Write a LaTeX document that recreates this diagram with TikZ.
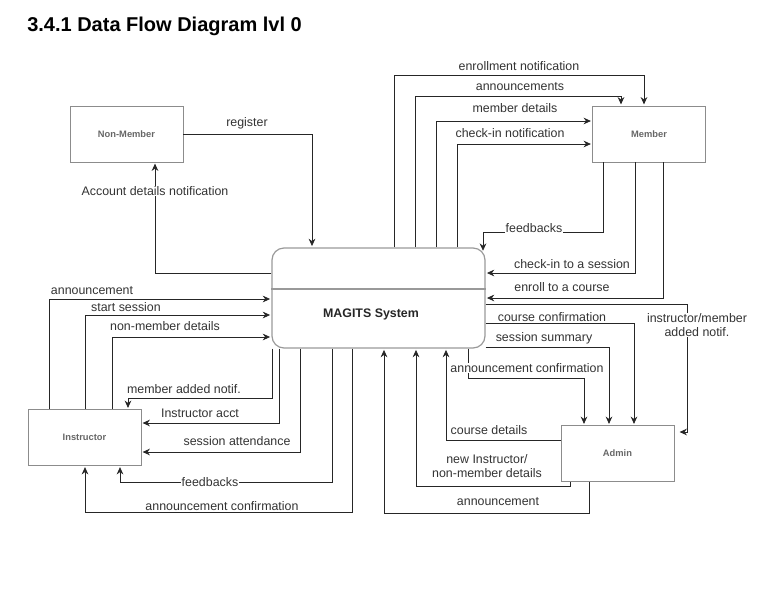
\documentclass[tikz,border=0pt]{standalone}
\usepackage{fontspec}
\setmainfont{Liberation Sans}
\usetikzlibrary{arrows.meta}

\begin{document}
\begin{tikzpicture}[x=0.75pt,y=-0.75pt,shorten >=1pt,
   ent/.style={draw=black!45,minimum width=84.75pt,minimum height=42pt,inner sep=0pt,
      text=black!60,font=\fontsize{7}{8}\selectfont\bfseries},
   proc/.style={draw=black!40,line width=0.9pt,rounded corners=9pt,
      minimum width=159.75pt,minimum height=75pt,inner sep=0pt},
   flow/.style={draw=black!85,line width=0.6pt,-{Stealth[length=5.5pt,width=5pt]}},
   lbl/.style={fill=white,inner sep=0.5pt,text=black!80,align=center,
      font=\fontsize{9.3}{10.5}\selectfont}]
   \useasboundingbox (0,0) rectangle (776,601);
   \node[anchor=base west,inner sep=0pt,font=\fontsize{15}{18}\selectfont\bfseries] (title) at (27,31)
      {3.4.1 Data Flow Diagram lvl 0};

   % external entities and the process
   \node[ent] (nm)  at (126.5,134)   {Non-Member};
   \node[ent] (mem) at (649,134)     {Member};
   \node[ent] (ins) at (84.5,437.5)  {Instructor};
   \node[ent] (adm) at (617.5,453.5) {Admin};
   \node[proc] (sys) at (378.5,298) {};
   \draw[black!40,line width=0.9pt,shorten >=0pt] (sys.west |- 0,289) -- (sys.east |- 0,289);
   \node[font=\fontsize{9.3}{11}\selectfont\bfseries,text=black!85] (sysname) at (371,314) {MAGITS System};

   % non-member
   \draw[flow] (nm.east) -| (sys.north -| 312,0);
   \draw[flow] (sys.west |- 0,273) -| (nm.south -| 155,0);
   \node[lbl] (l_reg) at (247,123) {register};
   \node[lbl] (l_acc) at (155,191) {Account details notification};

   % member
   \draw[flow] (sys.north -| 394,0) -- (394,75) -| (mem.north -| 644,0);
   \draw[flow] (sys.north -| 415,0) -- (415,96) -| (mem.north -| 621,0);
   \draw[flow] (sys.north -| 436,0) |- (mem.west |- 0,121);
   \draw[flow] (sys.north -| 457,0) |- (mem.west |- 0,144);
   \draw[flow,shorten >=-2.5pt] (mem.south -| 603,0) |- (483,232) -- (sys.north -| 483,0);
   \draw[flow] (mem.south -| 635,0) |- (sys.east |- 0,273);
   \draw[flow] (mem.south -| 663,0) |- (sys.east |- 0,298);
   \node[lbl] (l_enn) at (519,66)  {enrollment notification};
   \node[lbl] (l_ann) at (520,87)  {announcements};
   \node[lbl] (l_mdt) at (515,108) {member details};
   \node[lbl] (l_cin) at (510,133) {check-in notification};
   \node[lbl] (l_fbm) at (534,228) {feedbacks};
   \node[lbl] (l_cis) at (572,264) {check-in to a session};
   \node[lbl] (l_erc) at (562,287) {enroll to a course};

   % admin
   \draw[flow,shorten >=4pt] (sys.east |- 0,304) -| (687,432) -- (adm.east |- 0,432);
   \draw[flow] (sys.east |- 0,323) -| (adm.north -| 634,0);
   \draw[flow] (sys.east |- 0,347) -| (adm.north -| 609,0);
   \draw[flow] (sys.south -| 468,0) -- (468,378) -| (adm.north -| 584,0);
   \draw[flow] (adm.west |- 0,440) -| (sys.south -| 446,0);
   \draw[flow] (adm.south -| 570,0) -- (570,486) -| (sys.south -| 416,0);
   \draw[flow] (adm.south -| 589,0) -- (589,513) -| (sys.south -| 384,0);
   \node[lbl] (l_ima) at (697,325) {instructor/member\\added notif.};
   \node[lbl] (l_ccf) at (552,317) {course confirmation};
   \node[lbl] (l_ssm) at (544,338) {session summary};
   \node[lbl] (l_acf) at (527,368) {announcement confirmation};
   \node[lbl] (l_cdt) at (489,430) {course details};
   \node[lbl] (l_nid) at (487,466) {new Instructor/\\non-member details};
   \node[lbl] (l_anb) at (498,502) {announcement};

   % instructor
   \draw[flow] (ins.north -| 49,0)  |- (sys.west |- 0,299);
   \draw[flow] (ins.north -| 85,0)  |- (sys.west |- 0,315);
   \draw[flow] (ins.north -| 112,0) |- (sys.west |- 0,337);
   \draw[flow] (sys.south -| 272,0) -- (272,398) -| (ins.north -| 128,0);
   \draw[flow] (sys.south -| 279,0) |- (ins.east |- 0,423);
   \draw[flow] (sys.south -| 300,0) |- (ins.east |- 0,452);
   \draw[flow] (sys.south -| 332,0) -- (332,482) -| (ins.south -| 120,0);
   \draw[flow] (sys.south -| 352,0) -- (352,512) -| (ins.south -| 85,0);
   \node[lbl] (l_ani) at (92,291)  {announcement};
   \node[lbl] (l_sts) at (126,307) {start session};
   \node[lbl] (l_nmd) at (165,326) {non-member details};
   \node[lbl] (l_man) at (184,389) {member added notif.};
   \node[lbl] (l_iac) at (200,413) {Instructor acct};
   \node[lbl] (l_sat) at (237,441) {session attendance};
   \node[lbl] (l_fbi) at (210,482) {feedbacks};
   \node[lbl] (l_acn) at (222,506) {announcement confirmation};
\end{tikzpicture}
\end{document}
